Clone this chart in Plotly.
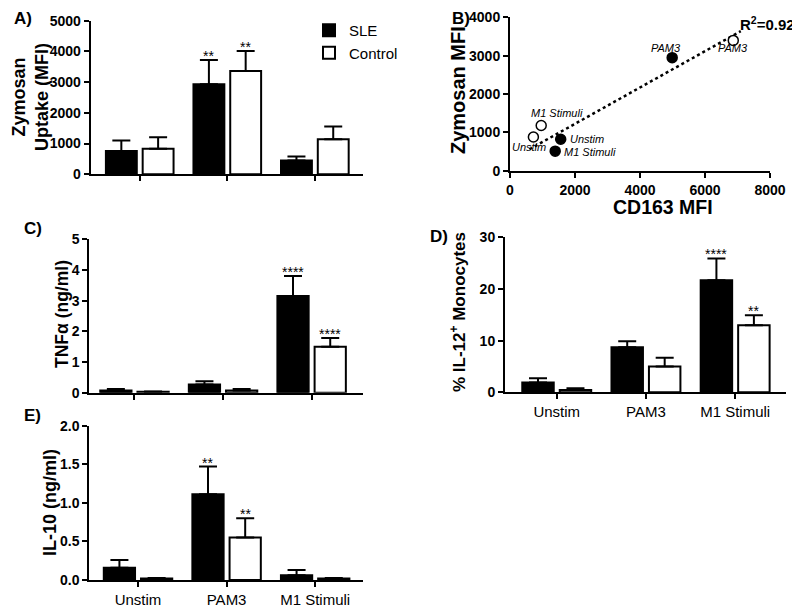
import plotly.graph_objects as go

# ---------------- data ----------------
categories = ["Unstim", "PAM3", "M1 Stimuli"]

# A) Zymosan uptake (MFI)
zym_sle = [760, 2930, 450]
zym_sle_err = [340, 790, 130]
zym_ctrl = [830, 3365, 1140]
zym_ctrl_err = [380, 650, 420]

# B) CD163 MFI vs Zymosan MFI
cd163_sle = [1560, 4990, 1390]
zymmfi_sle = [820, 2950, 510]
cd163_ctrl = [720, 6870, 960]
zymmfi_ctrl = [880, 3400, 1180]
scatter_labels = ["Unstim", "PAM3", "M1 Stimuli"]
trend_x = [600, 7100]
trend_y = [560, 3640]
r2_text = "R<sup>2</sup>=0.92"

# C) TNFa (ng/ml)
tnf_sle = [0.07, 0.27, 3.15]
tnf_sle_err = [0.05, 0.10, 0.65]
tnf_ctrl = [0.03, 0.07, 1.50]
tnf_ctrl_err = [0.01, 0.05, 0.28]

# D) % IL-12+ monocytes
il12_sle = [1.9, 8.7, 21.7]
il12_sle_err = [0.8, 1.2, 4.2]
il12_ctrl = [0.45, 5.0, 13.0]
il12_ctrl_err = [0.35, 1.7, 1.9]

# E) IL-10 (ng/ml)
il10_sle = [0.16, 1.11, 0.06]
il10_sle_err = [0.10, 0.36, 0.07]
il10_ctrl = [0.02, 0.55, 0.02]
il10_ctrl_err = [0.005, 0.25, 0.005]

# significance stars: (panel, group index, category index, text)
stars = [
    ("A", 0, 1, "**"), ("A", 1, 1, "**"),
    ("C", 0, 2, "****"), ("C", 1, 2, "****"),
    ("D", 0, 2, "****"), ("D", 1, 2, "**"),
    ("E", 0, 1, "**"), ("E", 1, 1, "**"),
]

# ---------------- figure ----------------
# the page body has an 8px margin, so the figure is laid out in window pixels minus 8
OFF = 8
FW, FH = 792, 600
FONT = "Arial, Liberation Sans, sans-serif"


def sx(X):
    return (X - OFF) / FW


def sy(Y):
    return 1 - (Y - OFF) / FH


def px_x(a, b):
    return [sx(a), sx(b)]


def px_y(top, bottom):
    return [sy(bottom), sy(top)]


fig = go.Figure()

panels = {
    "A": dict(ax="", sle=zym_sle, se=zym_sle_err, ct=zym_ctrl, ce=zym_ctrl_err, legend=True),
    "C": dict(ax="3", sle=tnf_sle, se=tnf_sle_err, ct=tnf_ctrl, ce=tnf_ctrl_err, legend=False),
    "D": dict(ax="4", sle=il12_sle, se=il12_sle_err, ct=il12_ctrl, ce=il12_ctrl_err, legend=False),
    "E": dict(ax="5", sle=il10_sle, se=il10_sle_err, ct=il10_ctrl, ce=il10_ctrl_err, legend=False),
}

for key, p in panels.items():
    xa = "x" + p["ax"]
    ya = "y" + p["ax"]
    fig.add_trace(go.Bar(
        x=categories, y=p["sle"], name="SLE", xaxis=xa, yaxis=ya,
        marker=dict(color="black", line=dict(color="black", width=2)),
        error_y=dict(type="data", symmetric=False, array=p["se"],
                     arrayminus=[0] * len(p["se"]), color="black",
                     thickness=2, width=9),
        showlegend=p["legend"], legendgroup="SLE", offsetgroup="SLE",
    ))
    fig.add_trace(go.Bar(
        x=categories, y=p["ct"], name="Control", xaxis=xa, yaxis=ya,
        marker=dict(color="white", line=dict(color="black", width=2)),
        error_y=dict(type="data", symmetric=False, array=p["ce"],
                     arrayminus=[0] * len(p["ce"]), color="black",
                     thickness=2, width=9),
        showlegend=p["legend"], legendgroup="Control", offsetgroup="Control",
    ))

# scatter B
fig.add_trace(go.Scatter(
    x=trend_x, y=trend_y, mode="lines", xaxis="x2", yaxis="y2",
    line=dict(color="black", width=2.5, dash="dot"), showlegend=False,
))
fig.add_trace(go.Scatter(
    x=cd163_sle, y=zymmfi_sle, mode="markers", xaxis="x2", yaxis="y2",
    marker=dict(size=10, color="black", line=dict(color="black", width=1.5)),
    showlegend=False, cliponaxis=False,
))
fig.add_trace(go.Scatter(
    x=cd163_ctrl, y=zymmfi_ctrl, mode="markers", xaxis="x2", yaxis="y2",
    marker=dict(size=10, color="white", line=dict(color="black", width=1.5)),
    showlegend=False, cliponaxis=False,
))

axis_common = dict(
    showline=True, linecolor="black", linewidth=2, mirror=False,
    ticks="outside", tickwidth=2, ticklen=5, tickcolor="black",
    showgrid=False, zeroline=False, fixedrange=True, automargin=False,
    tickfont=dict(family=FONT, size=14, color="black", weight="bold"),
)

cat_x_font = dict(family=FONT, size=15, color="black")

fig.update_layout(
    width=FW, height=FH,
    margin=dict(l=0, r=0, t=0, b=0, autoexpand=False),
    paper_bgcolor="white", plot_bgcolor="white",
    barmode="group", bargap=0.16, bargroupgap=0.16,
    font=dict(family=FONT, color="black"),
    legend=dict(x=sx(309), y=sy(14), xanchor="left", yanchor="top",
                font=dict(family=FONT, size=15, color="black"),
                bgcolor="rgba(0,0,0,0)", tracegroupgap=0),
    # A
    xaxis=dict(axis_common, domain=px_x(90.7, 363), range=[-0.56, 2.55],
               showticklabels=False, anchor="y"),
    yaxis=dict(axis_common, domain=px_y(20.7, 174.3), range=[0, 5000],
               tickvals=[0, 1000, 2000, 3000, 4000, 5000], anchor="x"),
    # B
    xaxis2=dict(axis_common, domain=px_x(510, 770), range=[0, 8000],
                tickvals=[0, 2000, 4000, 6000, 8000], anchor="y2"),
    yaxis2=dict(axis_common, domain=px_y(17.4, 170.7), range=[0, 4000],
                tickvals=[0, 1000, 2000, 3000, 4000], anchor="x2"),
    # C
    xaxis3=dict(axis_common, domain=px_x(89.3, 363), range=[-0.51, 2.58],
                showticklabels=False, anchor="y3"),
    yaxis3=dict(axis_common, domain=px_y(239.3, 392.7), range=[0, 5],
                tickvals=[0, 1, 2, 3, 4, 5], anchor="x3"),
    # D
    xaxis4=dict(axis_common, domain=px_x(505, 786), range=[-0.58, 2.57],
                anchor="y4", tickfont=cat_x_font),
    yaxis4=dict(axis_common, domain=px_y(237.3, 392.3), range=[0, 30],
                tickvals=[0, 10, 20, 30], anchor="x4"),
    # E
    xaxis5=dict(axis_common, domain=px_x(89.3, 363), range=[-0.55, 2.54],
                anchor="y5", tickfont=cat_x_font),
    yaxis5=dict(axis_common, domain=px_y(425.7, 580), range=[0, 2.0],
                tickvals=[0, 0.5, 1.0, 1.5, 2.0], ticktext=["0.0", "0.5", "1.0", "1.5", "2.0"],
                anchor="x5"),
)

annotations = []


def bold(size):
    return dict(family=FONT, size=size, color="black", weight="bold")


# axis titles (placed at the reference positions)
titles = [
    ("Zymosan<br>Uptake (MFI)", 31, 97, 18, -90),
    ("Zymosan MFI", 458, 90, 20, -90),
    ("CD163 MFI", 663, 207, 19.5, 0),
    ("TNFα (ng/ml)", 62, 314, 17.5, -90),
    ("% IL-12<sup>+</sup> Monocytes", 458, 312, 17, -90),
    ("IL-10 (ng/ml)", 50, 503, 18, -90),
]
for t, tx, ty, fs, ang in titles:
    annotations.append(dict(text=t, x=sx(tx), y=sy(ty), xref="paper", yref="paper",
                            xanchor="center", yanchor="middle", textangle=ang,
                            showarrow=False, font=bold(fs)))

# panel letters
letters = [("A)", 12, 18), ("B)", 450, 18), ("C)", 22, 228), ("D)", 428, 237), ("E)", 22, 415)]
for t, lx, ly in letters:
    annotations.append(dict(text=t, x=sx(lx), y=sy(ly), xref="paper", yref="paper",
                            xanchor="left", yanchor="middle", showarrow=False,
                            font=bold(17)))

# stars
offset = (1 - 0.16) / 4
axmap = {"A": "", "C": "3", "D": "4", "E": "5"}
for pk, grp, ci, txt in stars:
    p = panels[pk]
    vals = p["sle"] if grp == 0 else p["ct"]
    errs = p["se"] if grp == 0 else p["ce"]
    xpos = ci + (-offset if grp == 0 else offset)
    annotations.append(dict(text=txt, x=xpos, y=vals[ci] + errs[ci],
                            xref="x" + axmap[pk], yref="y" + axmap[pk],
                            xanchor="center", yanchor="bottom", yshift=-6,
                            showarrow=False,
                            font=dict(family=FONT, size=14, color="black")))

# scatter labels (italic)
lab_font = dict(family=FONT, size=11, color="black", style="italic")
sle_shifts = [(7, 0, "left"), (-6, 10, "center"), (7, -1, "left")]
ctrl_shifts = [(-4, -10, "center"), (0, -8, "center"), (16, 12, "center")]
for i, lab in enumerate(scatter_labels):
    dx, dy, xa = sle_shifts[i]
    annotations.append(dict(text=lab, x=cd163_sle[i], y=zymmfi_sle[i], xref="x2", yref="y2",
                            xanchor=xa, yanchor="middle", xshift=dx, yshift=dy,
                            showarrow=False, font=lab_font))
    dx, dy, xa = ctrl_shifts[i]
    annotations.append(dict(text=lab, x=cd163_ctrl[i], y=zymmfi_ctrl[i], xref="x2", yref="y2",
                            xanchor=xa, yanchor="middle", xshift=dx, yshift=dy,
                            showarrow=False, font=lab_font))

annotations.append(dict(text=r2_text, x=sx(738), y=sy(23), xref="paper", yref="paper",
                        xanchor="left", yanchor="middle", showarrow=False,
                        font=bold(15)))

fig.update_layout(annotations=annotations)

fig.write_html("out.html")
